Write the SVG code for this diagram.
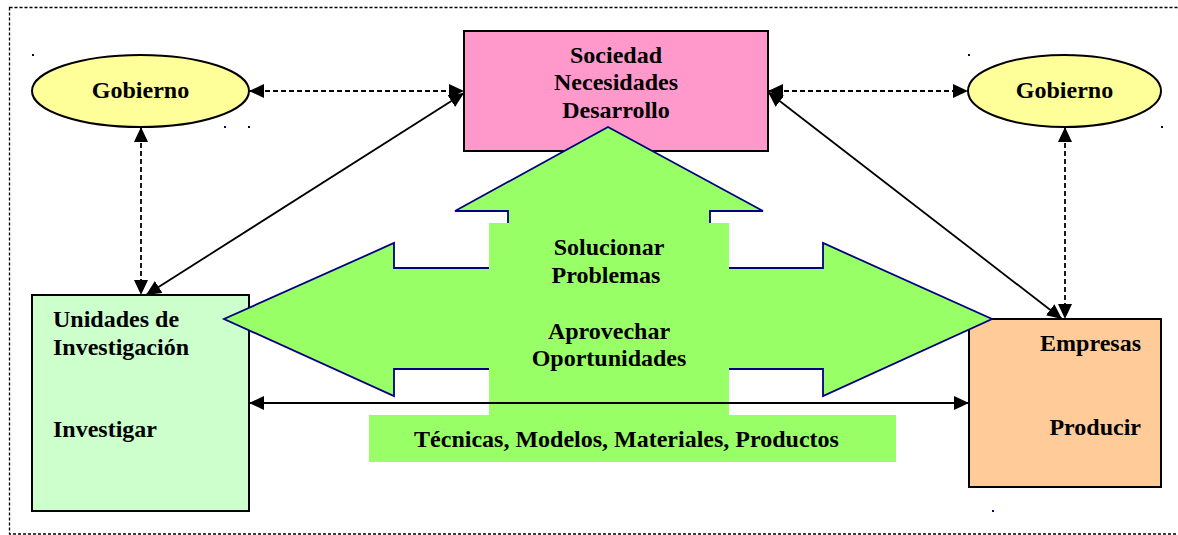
<svg xmlns="http://www.w3.org/2000/svg" width="1178" height="535" viewBox="0 0 1178 535">
<style>
.t{font-family:"Liberation Serif","Times New Roman",serif;font-weight:bold;font-size:24px;fill:#000}
.m{text-anchor:middle}
.e{text-anchor:end}
.box{stroke:#000;stroke-width:2}
.ln{stroke:#000;stroke-width:1.8;fill:none;marker-start:url(#ah);marker-end:url(#ah)}
.dash{stroke-dasharray:5,3}
.dot{fill:#000}
</style>
<defs>
<marker id="ah" markerUnits="userSpaceOnUse" markerWidth="16" markerHeight="16" refX="15" refY="7" orient="auto-start-reverse">
<path d="M0,0 L15,7 L0,14 z" fill="#000"/>
</marker>
</defs>
<rect x="9.5" y="7.5" width="1180" height="526.5" fill="#fff" stroke="#000" stroke-width="1.3" stroke-dasharray="3,2"/>
<g id="gobierno-left">
<ellipse cx="140.5" cy="91" rx="108.5" ry="36" fill="#FFFF99" class="box"/>
<text class="t m" x="140.5" y="97.5">Gobierno</text>
</g>
<g id="gobierno-right">
<ellipse cx="1064.5" cy="91" rx="96.5" ry="36" fill="#FFFF99" class="box"/>
<text class="t m" x="1064.5" y="97.5">Gobierno</text>
</g>
<g id="sociedad">
<rect x="464" y="31" width="304" height="120" fill="#FF99CC" class="box"/>
<text class="t m" x="616" y="62.5">Sociedad</text>
<text class="t m" x="616" y="90">Necesidades</text>
<text class="t m" x="616" y="117.5">Desarrollo</text>
</g>
<g id="unidades">
<rect x="32" y="295" width="217" height="216" fill="#CCFFCC" class="box"/>
<text class="t" x="53" y="327">Unidades de</text>
<text class="t" x="53" y="355">Investigación</text>
<text class="t" x="53" y="437">Investigar</text>
</g>
<g id="empresas">
<rect x="969" y="319" width="192" height="168" fill="#FFCC99" class="box"/>
<text class="t e" x="1141" y="351">Empresas</text>
<text class="t e" x="1141" y="435">Producir</text>
</g>
<g id="flechas">
<polygon points="608,127 763,211 710,211 710,268 823,268 823,243 992,319 823,396 823,369 710,369 710,400 508,400 508,369 394,369 394,396 224,319 394,243 394,268 508,268 508,211 455,211" fill="#99FF66" stroke="#000080" stroke-width="1.8" stroke-linejoin="miter"/>
<rect x="489" y="223" width="240" height="193" fill="#99FF66"/>
<rect x="369" y="415" width="527" height="47" fill="#99FF66"/>
<text class="t m" x="609" y="255">Solucionar</text>
<text class="t m" x="606" y="282.5">Problemas</text>
<text class="t m" x="609" y="338.5">Aprovechar</text>
<text class="t m" x="609" y="366">Oportunidades</text>
<text class="t m" x="626.5" y="447">Técnicas, Modelos, Materiales, Productos</text>
</g>
<g id="connectors">
<line class="ln dash" x1="249" y1="91" x2="464" y2="91"/>
<line class="ln dash" x1="768" y1="91" x2="968" y2="91"/>
<line class="ln dash" x1="141" y1="127" x2="141" y2="295"/>
<line class="ln dash" x1="1065" y1="127" x2="1065" y2="319"/>
<line class="ln" x1="464" y1="93" x2="146" y2="295"/>
<line class="ln" x1="768" y1="92" x2="1062" y2="319"/>
<line class="ln" x1="249" y1="403" x2="969" y2="403"/>
</g>
<g id="marks">
<rect class="dot" x="32" y="54" width="2" height="2"/>
<rect x="224" y="126" width="2" height="2" fill="#000080"/>
<rect class="dot" x="248" y="126" width="2" height="2"/>
<rect class="dot" x="968" y="54" width="2" height="2"/>
<rect class="dot" x="1161" y="126" width="2" height="2"/>
<rect x="992" y="510" width="2" height="2" fill="#000080"/>
</g>
</svg>
